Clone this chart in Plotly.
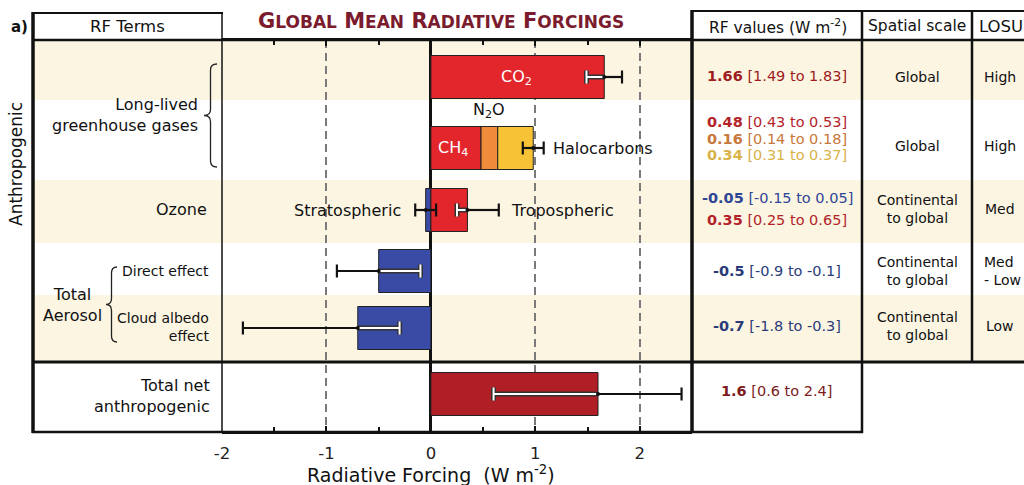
import plotly.graph_objects as go

W, H = 1024, 485

# ---------------- data ----------------
terms = ["CO2", "CH4", "N2O", "Halocarbons", "Stratospheric ozone",
         "Tropospheric ozone", "Aerosol direct effect", "Cloud albedo effect",
         "Total net anthropogenic"]
rf_best = [1.66, 0.48, 0.16, 0.34, -0.05, 0.35, -0.5, -0.7, 1.6]
rf_low = [1.49, 0.43, 0.14, 0.31, -0.15, 0.25, -0.9, -1.8, 0.6]
rf_high = [1.83, 0.53, 0.18, 0.37, 0.05, 0.65, -0.1, -0.3, 2.4]
rf_decimals = [2, 2, 2, 2, 2, 2, 1, 1, 1]
spatial_scale = ["Global", "Global", "Continental<br>to global",
                 "Continental<br>to global", "Continental<br>to global"]
losu = ["High", "High", "Med", "Med<br>- Low", "Low"]
x_ticks = [-2, -1, 0, 1, 2]
x_tick_labels = ["-2", "-1", "0", "1", "2"]
x_minor_ticks = [-1.5, -0.5, 0.5, 1.5]

# ---------------- styling ----------------
FONT = "DejaVu Sans"
RED, ORANGE, YELLOW = "#E2262B", "#EF8B3B", "#F6C336"
BLUE, DARKRED = "#3A4BA6", "#B01F25"
BEIGE = "#FCF5E2"
value_colors = ["#9E1B20", "#B3242A", "#C8783A", "#D8B24A", "#2F4595",
                "#B3242A", "#2B3B7A", "#2B3B7A", "#7D1A20"]
bar_colors = [RED, RED, ORANGE, YELLOW, BLUE, RED, BLUE, BLUE, DARKRED]

# vertical layout (y axis runs in screen units, top to bottom)
PLOT_TOP, PLOT_BOTTOM = 40, 432
row_y = {"co2": 77, "llghg": 148, "ozone": 210, "direct": 271,
         "cloud": 328, "total": 394}
term_rows = ["co2", "llghg", "llghg", "llghg", "ozone", "ozone",
             "direct", "cloud", "total"]
BAR_H = 43
X0_PX, X1_PX = 222, 692


def px(x):
    return x / W


def py(y):
    return 1 - y / H


fig = go.Figure()

# ---------------- bars ----------------
base = {}
for i, t in enumerate(terms):
    row = term_rows[i]
    b = 0.0
    if row == "llghg":
        b = base.get(row, 0.0)
        base[row] = b + rf_best[i]
    fig.add_trace(go.Bar(
        x=[rf_best[i]], y=[row_y[row]], base=[b], orientation="h",
        width=BAR_H, marker=dict(color=bar_colors[i],
                                 line=dict(color="#222", width=1)),
        showlegend=False, hoverinfo="skip"))

# ---------------- uncertainty whiskers ----------------
llghg_idx = [i for i, r in enumerate(term_rows) if r == "llghg"]
whiskers = [
    (row_y["co2"], rf_best[0], rf_low[0], rf_high[0], True),
    (row_y["llghg"], sum(rf_best[i] for i in llghg_idx),
     sum(rf_low[i] for i in llghg_idx), sum(rf_high[i] for i in llghg_idx), False),
    (row_y["ozone"], rf_best[4], rf_low[4], rf_high[4], False),
    (row_y["ozone"], rf_best[5], rf_low[5], rf_high[5], True),
    (row_y["direct"], rf_best[6], rf_low[6], rf_high[6], True),
    (row_y["cloud"], rf_best[7], rf_low[7], rf_high[7], True),
    (row_y["total"], rf_best[8], rf_low[8], rf_high[8], True),
]
CAP = 6.5
solid_x, solid_y, hol_x, hol_y, dot_x, dot_y = [], [], [], [], [], []


def seg(xs, ys, x0, x1, y):
    xs += [x0, x1, None]
    ys += [y, y, None]


def cap(xs, ys, x, y):
    xs += [x, x, None]
    ys += [y - CAP, y + CAP, None]


for y, v, lo, hi, hollow in whiskers:
    dot_x.append(v)
    dot_y.append(y)
    if not hollow:
        seg(solid_x, solid_y, lo, hi, y)
        cap(solid_x, solid_y, lo, y)
        cap(solid_x, solid_y, hi, y)
        continue
    if v >= 0:
        seg(hol_x, hol_y, lo, min(v, hi), y)
        cap(hol_x, hol_y, lo, y)
        seg(solid_x, solid_y, v, hi, y)
        cap(solid_x, solid_y, hi, y)
    else:
        seg(hol_x, hol_y, max(v, lo), hi, y)
        cap(hol_x, hol_y, hi, y)
        seg(solid_x, solid_y, lo, v, y)
        cap(solid_x, solid_y, lo, y)

fig.add_trace(go.Scatter(x=hol_x, y=hol_y, mode="lines",
                         line=dict(color="#333", width=5),
                         showlegend=False, hoverinfo="skip"))
fig.add_trace(go.Scatter(x=hol_x, y=hol_y, mode="lines",
                         line=dict(color="white", width=2),
                         showlegend=False, hoverinfo="skip"))
fig.add_trace(go.Scatter(x=solid_x, y=solid_y, mode="lines",
                         line=dict(color="#111", width=2.2),
                         showlegend=False, hoverinfo="skip"))
fig.add_trace(go.Scatter(x=dot_x, y=dot_y, mode="markers",
                         marker=dict(color="#111", size=4),
                         showlegend=False, hoverinfo="skip"))

# ---------------- table background bands and rules ----------------
shapes = []
for y0, y1 in [(40, 100), (180, 243), (295, 362)]:
    shapes.append(dict(type="rect", xref="paper", yref="paper", layer="below",
                       x0=px(33), x1=1, y0=py(y1), y1=py(y0),
                       fillcolor=BEIGE, line=dict(width=0)))


def hline(y, xa, xb, w):
    shapes.append(dict(type="line", xref="paper", yref="paper",
                       x0=px(xa), x1=px(xb), y0=py(y), y1=py(y),
                       line=dict(color="#111", width=w)))


def vline(x, ya, yb, w):
    shapes.append(dict(type="line", xref="paper", yref="paper",
                       x0=px(x), x1=px(x), y0=py(ya), y1=py(yb),
                       line=dict(color="#111", width=w)))


hline(13, 32, 223, 2)
hline(11, 691, 1024, 2)
hline(PLOT_TOP, 32, 1024, 2.5)
hline(362, 32, 1024, 3)
hline(PLOT_BOTTOM, 32, 863, 2.5)
vline(33, 12, 433, 3.5)
vline(X0_PX, 12, 433, 1.5)
vline(X1_PX, 10, 433, 3.5)
vline(862, 10, 433, 2.5)
vline(972, 10, 363, 2.5)


def brace(x_tip, x_end, y0, y1):
    xm = (x_tip + x_end) / 2
    ym = (y0 + y1) / 2
    r = 6
    pts = [("M", x_end, y0), ("Q", xm, y0, xm, y0 + r), ("L", xm, ym - r),
           ("Q", xm, ym, x_tip, ym), ("Q", xm, ym, xm, ym + r),
           ("L", xm, y1 - r), ("Q", xm, y1, x_end, y1)]
    out = []
    for p in pts:
        cmd, coords = p[0], p[1:]
        xy = []
        for k in range(0, len(coords), 2):
            xy.append(f"{px(coords[k]):.5f},{py(coords[k + 1]):.5f}")
        out.append(cmd + " " + " ".join(xy))
    shapes.append(dict(type="path", xref="paper", yref="paper",
                       path=" ".join(out), line=dict(color="#222", width=1.3)))


brace(204, 217, 64, 167)
brace(106, 117, 267, 342)

# ---------------- text ----------------
ann = []


def text(t, x, y, size=16, color="#111", xanchor="center", align="center",
         angle=0, ref="paper"):
    if ref == "paper":
        ann.append(dict(text=t, x=px(x), y=py(y), xref="paper", yref="paper",
                        showarrow=False, xanchor=xanchor, yanchor="middle",
                        align=align, textangle=angle,
                        font=dict(family=FONT, size=size, color=color)))
    else:
        ann.append(dict(text=t, x=x, y=y, xref="x", yref="y",
                        showarrow=False, xanchor=xanchor, yanchor="middle",
                        align=align, font=dict(family=FONT, size=size, color=color)))


def small_caps(s, big=21, small=17):
    words = []
    for w in s.split():
        words.append(w[0] + f"<span style='font-size:{small}px'>{w[1:]}</span>")
    return "<b>" + " ".join(words) + "</b>"


text("<b>a)</b>", 19, 27, size=15)
text("RF Terms", 127, 26, size=16.5)
text(small_caps("GLOBAL MEAN RADIATIVE FORCINGS"), 441, 21, size=21, color="#7B1B2E")
text("RF values (W m<sup>-2</sup>)", 778, 26, size=15.5)
text("Spatial scale", 917, 26, size=15.5)
text("LOSU", 977, 26, size=16.5, xanchor="left")

text("Anthropogenic", 16, 164, size=17, angle=-90)
text("Long-lived<br>greenhouse gases", 200, 115, size=16, xanchor="right", align="right")
text("Ozone", 209, 209, size=16, xanchor="right")
text("Direct effect", 211, 271, size=14, xanchor="right")
text("Cloud albedo<br>effect", 211, 327, size=14, xanchor="right", align="right")
text("Total<br>Aerosol", 72, 305, size=16)
text("Total net<br>anthropogenic", 212, 396, size=16, xanchor="right", align="right")

# labels inside the plot, in data units
text("CO<sub>2</sub>", 0.82, row_y["co2"], color="white", ref="data")
text("N<sub>2</sub>O", 0.56, 110, ref="data")
text("CH<sub>4</sub>", 0.21, row_y["llghg"], color="white", ref="data")
text("Halocarbons", 1.15, row_y["llghg"], xanchor="left", ref="data")
text("Stratospheric", -0.27, row_y["ozone"], xanchor="right", ref="data")
text("Tropospheric", 0.75, row_y["ozone"], xanchor="left", ref="data")

# RF value column
value_y = [76, 122, 139, 155, 198, 220, 271, 326, 391]


def fmt(v, d):
    return f"{v:.{d}f}"


for i in range(len(terms)):
    d = rf_decimals[i]
    s = (f"<b>{fmt(rf_best[i], d)}</b> [{fmt(rf_low[i], d)} to "
         f"{fmt(rf_high[i], d)}]")
    text(s, 777, value_y[i], size=14.5, color=value_colors[i])

scale_y = [77, 146, 209, 271, 326]
for s, yy in zip(spatial_scale, scale_y):
    text(s, 917, yy, size=14)
for s, yy in zip(losu, scale_y):
    if "<br>" in s:
        text(s, 982, yy, size=14, xanchor="left", align="left")
    else:
        text(s, 1000, yy, size=14)

text("Radiative Forcing  (W m<sup>-2</sup>)", 431, 474, size=19)

fig.update_layout(
    template="none",
    width=W, height=H, margin=dict(l=0, r=0, t=0, b=0, pad=0, autoexpand=False),
    paper_bgcolor="white", plot_bgcolor="rgba(0,0,0,0)",
    barmode="overlay", shapes=shapes, annotations=ann,
    xaxis=dict(domain=[px(X0_PX), px(X1_PX)], range=[-2, 2.5],
               automargin=False,
               tickvals=x_ticks, ticktext=x_tick_labels,
               ticks="inside", ticklen=6, tickwidth=1.5,
               tickcolor="#111", mirror="allticks", showline=True,
               linecolor="#111", linewidth=2, showgrid=True,
               griddash="8px,5px", gridcolor="#7a7a7a", gridwidth=1.5,
               zeroline=True, zerolinecolor="#111", zerolinewidth=2.5,
               minor=dict(tickvals=x_minor_ticks, ticks="inside", ticklen=5,
                          tickwidth=1.5, tickcolor="#111", showgrid=False),
               tickfont=dict(family=FONT, size=16.5, color="#222"),
               ticklabelstandoff=5, fixedrange=True),
    yaxis=dict(domain=[py(PLOT_BOTTOM), py(PLOT_TOP)], automargin=False,
               range=[PLOT_BOTTOM, PLOT_TOP], visible=False, fixedrange=True),
)

fig.write_html("out.html")
